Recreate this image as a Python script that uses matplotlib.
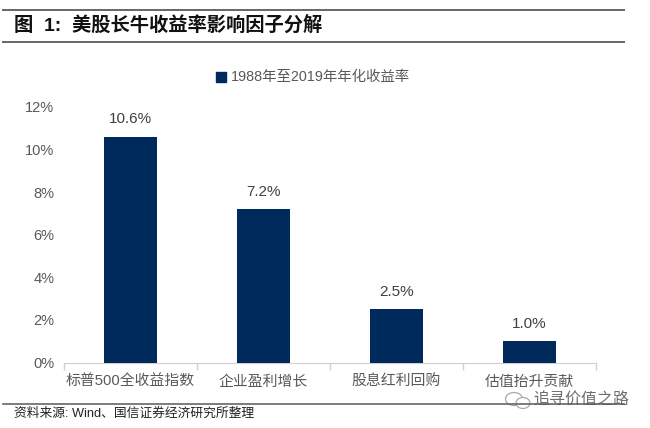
import matplotlib
matplotlib.use("Agg")
import matplotlib.pyplot as plt
from matplotlib.lines import Line2D
from matplotlib.patches import Rectangle, Ellipse

categories = ["标普500全收益指数", "企业盈利增长", "股息红利回购", "估值抬升贡献"]
values = [10.6, 7.2, 2.5, 1.0]
value_labels = ["10.6%", "7.2%", "2.5%", "1.0%"]
yticks = [0, 2, 4, 6, 8, 10, 12]
ytick_labels = ["0%", "2%", "4%", "6%", "8%", "10%", "12%"]
title = "图  1:  美股长牛收益率影响因子分解"
legend_label = "1988年至2019年年化收益率"
source = "资料来源: Wind、国信证券经济研究所整理"
watermark = "追寻价值之路"

plt.rcParams['font.family'] = ['Liberation Sans', 'Noto Sans CJK SC', 'DejaVu Sans']
W, H = 650, 428
fig = plt.figure(figsize=(W/100, H/100), dpi=100)
fig.patch.set_facecolor("white")
GREY = "#595959"
NAVY = "#002A5C"

def fx(x): return x / W
def fy(y): return 1 - y / H

ax = fig.add_axes([fx(64), fy(362.5), (596-64)/W, (362.5-107)/H])
x = list(range(len(categories)))
ax.bar(x, values, width=0.4, color=NAVY, zorder=3)
ax.set_xlim(-0.5, 3.5)
ax.set_ylim(0, 12)
ax.set_yticks(yticks)
ax.set_yticklabels(ytick_labels, fontsize=10.5, color=GREY)
ax.tick_params(axis='y', length=0, pad=7)
ax.set_xticks([-0.5, 0.5, 1.5, 2.5, 3.5])
ax.set_xticklabels([])
ax.tick_params(axis='x', length=5, color="#D0D0D0", width=1, direction='out')
ax.set_xticks(x, minor=True)
ax.set_xticklabels(categories, minor=True, fontsize=10.7, color=GREY)
ax.tick_params(axis='x', which='minor', length=0, pad=9)
for s in ["top", "right", "left"]:
    ax.spines[s].set_visible(False)
ax.spines["bottom"].set_color("#D0D0D0")
for xi, v, lab in zip(x, values, value_labels):
    ax.annotate(lab, (xi, v), xytext=(0, 7.5), textcoords="offset points",
                ha="center", va="bottom", fontsize=11, color="#404040")

for y, lw in [(10, 1.4), (41.5, 1.4), (404, 1.2)]:
    fig.add_artist(Line2D([fx(3), fx(624)], [fy(y), fy(y)], color="#666666", lw=lw))

fig.text(fx(14.5), fy(26), title, fontsize=13.9, fontweight="bold", color="#111111", va="center", ha="left")
fig.add_artist(Rectangle((fx(216), fy(82)), 10/W, 10/H, transform=fig.transFigure, color=NAVY))
fig.text(fx(231), fy(77), legend_label, fontsize=10.4, color=GREY, va="center", ha="left")
fig.text(fx(14), fy(414), source, fontsize=9.2, color="#222222", va="center", ha="left")
fig.text(fx(629), fy(400), watermark, fontsize=11.5, color="#555555", va="center", ha="right", alpha=0.85)
fig.add_artist(Ellipse((fx(514), fy(399)), 17/W, 13/H, transform=fig.transFigure, fill=False, ec="#AAAAAA", lw=0.9))
fig.add_artist(Ellipse((fx(523), fy(403)), 14/W, 11/H, transform=fig.transFigure, fc="white", ec="#AAAAAA", lw=0.9))

fig.savefig("out.png", dpi=100)
